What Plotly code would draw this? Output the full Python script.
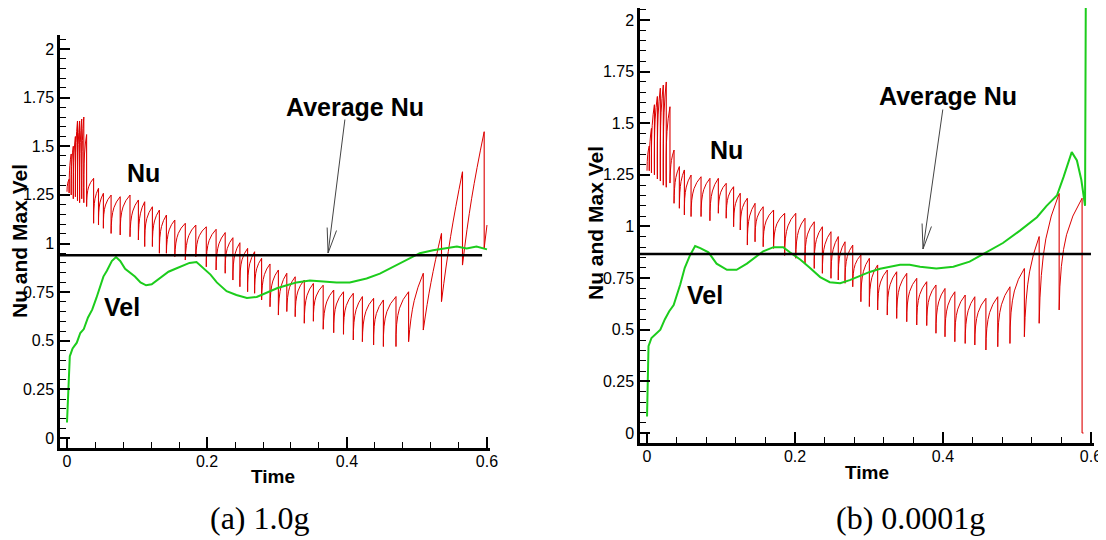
import plotly.graph_objects as go

# ---------------- data ----------------
# Panel (a) 1.0g : Nusselt number sawtooth (drop time, value before drop, value after drop, knee of rise)
a_nu_start = 1.266
a_drop_t = [0.003, 0.006, 0.009, 0.012, 0.015, 0.018, 0.021, 0.024, 0.028,
            0.038, 0.045, 0.052, 0.063, 0.076, 0.090, 0.102, 0.111, 0.122, 0.132,
            0.142, 0.154, 0.169, 0.184, 0.199, 0.213, 0.226, 0.237, 0.247, 0.258,
            0.268, 0.278, 0.290, 0.302, 0.314, 0.326, 0.339, 0.352, 0.366, 0.381,
            0.395, 0.409, 0.422, 0.438, 0.452, 0.470, 0.488, 0.509, 0.535, 0.565, 0.596]
a_peak = [1.33, 1.46, 1.50, 1.55, 1.63, 1.63, 1.64, 1.65, 1.56,
          1.335, 1.284, 1.258, 1.249, 1.241, 1.249, 1.224, 1.215, 1.189, 1.172,
          1.146, 1.121, 1.104, 1.095, 1.086, 1.073, 1.056, 1.030, 1.004, 0.975,
          0.958, 0.924, 0.895, 0.864, 0.847, 0.829, 0.812, 0.795, 0.786, 0.761,
          0.752, 0.744, 0.727, 0.718, 0.710, 0.727, 0.752, 0.847, 1.052, 1.369, 1.575]
a_trough = [1.26, 1.25, 1.23, 1.24, 1.22, 1.21, 1.23, 1.21, 1.19,
            1.104, 1.095, 1.078, 1.052, 1.044, 1.035, 1.018, 0.984, 0.984, 0.950,
            0.950, 0.932, 0.915, 0.932, 0.880, 0.864, 0.847, 0.812, 0.778, 0.752,
            0.744, 0.710, 0.675, 0.632, 0.650, 0.624, 0.590, 0.600, 0.559, 0.541,
            0.533, 0.504, 0.495, 0.478, 0.470, 0.470, 0.495, 0.555, 0.701, 0.889, 0.977]
a_knee_t = [0.001, 0.004, 0.007, 0.010, 0.013, 0.016, 0.019, 0.022, 0.025,
            0.031, 0.040, 0.047, 0.055, 0.067, 0.080, 0.094, 0.105, 0.114, 0.125,
            0.135, 0.146, 0.159, 0.174, 0.189, 0.203, 0.217, 0.229, 0.240, 0.250,
            0.261, 0.271, 0.282, 0.294, 0.306, 0.318, 0.330, 0.343, 0.356, 0.371,
            0.385, 0.399, 0.413, 0.427, 0.442, 0.457, 0.475, 0.496, 0.520, 0.548, 0.578]
a_knee_v = [1.31, 1.40, 1.43, 1.46, 1.52, 1.51, 1.52, 1.53, 1.46,
            1.292, 1.230, 1.209, 1.198, 1.184, 1.188, 1.167, 1.156, 1.128, 1.116,
            1.087, 1.070, 1.052, 1.041, 1.040, 1.015, 0.998, 0.975, 0.946, 0.916,
            0.896, 0.870, 0.840, 0.807, 0.782, 0.775, 0.756, 0.734, 0.730, 0.700,
            0.689, 0.681, 0.660, 0.651, 0.640, 0.650, 0.667, 0.706, 0.800, 1.035, 1.230]
a_nu_end_t = 0.600
a_nu_end_v = 1.095

# Panel (a): maximum velocity
a_vel_t = [0, 0.002, 0.004, 0.008, 0.014, 0.019, 0.024, 0.030, 0.036, 0.042, 0.047,
           0.052, 0.057, 0.064, 0.070, 0.076, 0.083, 0.090, 0.097, 0.105, 0.113,
           0.121, 0.128, 0.135, 0.145, 0.155, 0.165, 0.175, 0.185, 0.195, 0.205,
           0.214, 0.228, 0.242, 0.257, 0.271, 0.285, 0.300, 0.314, 0.328, 0.347,
           0.366, 0.385, 0.404, 0.428, 0.447, 0.466, 0.485, 0.504, 0.523, 0.542,
           0.557, 0.571, 0.585, 0.600]
a_vel_v = [0.08, 0.30, 0.42, 0.46, 0.49, 0.54, 0.56, 0.62, 0.66, 0.72, 0.78,
           0.83, 0.86, 0.91, 0.93, 0.91, 0.87, 0.85, 0.83, 0.80, 0.785,
           0.79, 0.81, 0.83, 0.855, 0.87, 0.885, 0.90, 0.905, 0.87, 0.84,
           0.80, 0.755, 0.735, 0.72, 0.725, 0.745, 0.77, 0.785, 0.80, 0.81,
           0.805, 0.80, 0.80, 0.82, 0.845, 0.88, 0.915, 0.95, 0.965, 0.975,
           0.985, 0.975, 0.985, 0.97]
a_avg_nu = 0.94
a_avg_t = [-0.01, 0.593]

# Panel (b) 0.0001g
b_nu_start = 1.27
b_drop_t = [0.003, 0.006, 0.010, 0.014, 0.018, 0.022, 0.026, 0.031,
            0.0365, 0.0437, 0.0505, 0.0595, 0.073, 0.085, 0.0964, 0.107, 0.117, 0.126,
            0.1356, 0.146, 0.157, 0.171, 0.186, 0.201, 0.2135, 0.226, 0.237, 0.2486,
            0.2585, 0.2676, 0.278, 0.289, 0.3005, 0.3117, 0.3247, 0.3374, 0.351, 0.3645,
            0.378, 0.3905, 0.4027, 0.416, 0.430, 0.443, 0.458, 0.474, 0.4905, 0.510,
            0.530, 0.557, 0.588]
b_peak = [1.39, 1.475, 1.59, 1.63, 1.67, 1.685, 1.70, 1.58,
          1.37, 1.29, 1.274, 1.249, 1.241, 1.233, 1.233, 1.209, 1.193, 1.161,
          1.137, 1.112, 1.096, 1.080, 1.064, 1.064, 1.040, 1.023, 0.999, 0.975,
          0.951, 0.926, 0.910, 0.862, 0.846, 0.814, 0.789, 0.781, 0.773, 0.749,
          0.733, 0.717, 0.700, 0.684, 0.668, 0.660, 0.652, 0.660, 0.708, 0.797,
          0.951, 1.160, 1.137]
b_trough = [1.27, 1.26, 1.25, 1.23, 1.22, 1.20, 1.19, 1.21,
            1.112, 1.088, 1.056, 1.048, 1.048, 1.028, 1.064, 1.040, 0.999, 0.983,
            0.910, 0.926, 0.902, 0.894, 0.860, 0.846, 0.822, 0.797, 0.773, 0.749,
            0.741, 0.725, 0.708, 0.636, 0.612, 0.596, 0.571, 0.555, 0.539, 0.523,
            0.520, 0.483, 0.466, 0.442, 0.434, 0.426, 0.402, 0.418, 0.434, 0.466,
            0.531, 0.596, 0.0]
b_knee_t = [0.001, 0.004, 0.007, 0.011, 0.015, 0.019, 0.023, 0.027,
            0.033, 0.039, 0.046, 0.053, 0.0635, 0.0766, 0.0884, 0.0996, 0.110, 0.1197,
            0.129, 0.1387, 0.149, 0.161, 0.1755, 0.1905, 0.205, 0.217, 0.229, 0.2405,
            0.2516, 0.2612, 0.2707, 0.2813, 0.2925, 0.3039, 0.3156, 0.3285, 0.3415, 0.355,
            0.3685, 0.3818, 0.3942, 0.4067, 0.420, 0.434, 0.4475, 0.463, 0.479, 0.4965,
            0.517, 0.539, 0.567]
b_knee_v = [1.35, 1.41, 1.49, 1.52, 1.54, 1.55, 1.55, 1.46,
            1.32, 1.237, 1.218, 1.191, 1.183, 1.178, 1.172, 1.166, 1.147, 1.112,
            1.091, 1.051, 1.045, 1.027, 1.013, 1.003, 0.982, 0.963, 0.938, 0.914,
            0.890, 0.871, 0.855, 0.816, 0.783, 0.753, 0.731, 0.718, 0.708, 0.686,
            0.670, 0.658, 0.635, 0.619, 0.600, 0.592, 0.584, 0.583, 0.621, 0.688,
            0.780, 0.940, 0.960]
b_nu_end_t = 0.590
b_nu_end_v = 0.0

b_vel_t = [0, 0.002, 0.006, 0.012, 0.018, 0.024, 0.030, 0.036, 0.041, 0.045, 0.051,
           0.058, 0.065, 0.072, 0.083, 0.094, 0.108, 0.121, 0.135, 0.146, 0.157,
           0.171, 0.184, 0.193, 0.207, 0.220, 0.234, 0.247, 0.261, 0.274, 0.288,
           0.301, 0.315, 0.328, 0.342, 0.355, 0.369, 0.391, 0.414, 0.436, 0.459,
           0.481, 0.504, 0.527, 0.540, 0.554, 0.563, 0.574, 0.581, 0.587, 0.592, 0.593]
b_vel_v = [0.08, 0.42, 0.46, 0.48, 0.50, 0.55, 0.59, 0.62, 0.67, 0.72, 0.80,
           0.86, 0.905, 0.895, 0.875, 0.82, 0.79, 0.79, 0.82, 0.85, 0.88,
           0.90, 0.90, 0.875, 0.84, 0.80, 0.755, 0.73, 0.725, 0.74, 0.76,
           0.78, 0.795, 0.805, 0.815, 0.815, 0.805, 0.797, 0.805, 0.83, 0.875,
           0.92, 0.98, 1.045, 1.10, 1.15, 1.24, 1.36, 1.32, 1.225, 1.10, 2.10]
b_avg_nu = 0.867
b_avg_t = [-0.0095, 0.600]

# Axis ticks and labels
x_tickvals = [0, 0.2, 0.4, 0.6]
x_ticktext = ["0", "0.2", "0.4", "0.6"]
y_tickvals = [0, 0.25, 0.5, 0.75, 1, 1.25, 1.5, 1.75, 2]
y_ticktext = ["0", "0.25", "0.5", "0.75", "1", "1.25", "1.5", "1.75", "2"]

RED = "#dc0000"
GREEN = "#1ccc1c"
FONT = "Liberation Sans, Arial, sans-serif"
SERIF = "Liberation Serif, Times New Roman, serif"


def nu_segments(start_v, drop_t, peak, trough, knee_t, knee_v, end_t, end_v):
    rx, ry, dx, dy = [], [], [], []
    prev_t, prev_v = 0.0, start_v
    for t, p, tr, kt, kv in zip(drop_t, peak, trough, knee_t, knee_v):
        rx += [prev_t, kt, t, None]
        ry += [prev_v, kv, p, None]
        dx += [t, t, None]
        dy += [p, tr, None]
        prev_t, prev_v = t, tr
    rx += [prev_t, end_t, None]
    ry += [prev_v, end_v, None]
    return rx, ry, dx, dy


fig = go.Figure()

panels = [
    dict(sx="x", sy="y", nu=(a_nu_start, a_drop_t, a_peak, a_trough, a_knee_t, a_knee_v, a_nu_end_t, a_nu_end_v),
         vt=a_vel_t, vv=a_vel_v, avg=a_avg_nu, avg_t=a_avg_t),
    dict(sx="x2", sy="y2", nu=(b_nu_start, b_drop_t, b_peak, b_trough, b_knee_t, b_knee_v, b_nu_end_t, b_nu_end_v),
         vt=b_vel_t, vv=b_vel_v, avg=b_avg_nu, avg_t=b_avg_t),
]

for p in panels:
    rx, ry, dx, dy = nu_segments(*p["nu"])
    fig.add_trace(go.Scatter(x=rx, y=ry, xaxis=p["sx"], yaxis=p["sy"], mode="lines",
                             line=dict(color=RED, width=1, shape="spline", smoothing=1.3),
                             connectgaps=False, hoverinfo="skip", showlegend=False))
    fig.add_trace(go.Scatter(x=dx, y=dy, xaxis=p["sx"], yaxis=p["sy"], mode="lines",
                             line=dict(color=RED, width=1.1), connectgaps=False,
                             hoverinfo="skip", showlegend=False))
    fig.add_trace(go.Scatter(x=p["vt"], y=p["vv"], xaxis=p["sx"], yaxis=p["sy"], mode="lines",
                             line=dict(color=GREEN, width=2), hoverinfo="skip", showlegend=False))
    fig.add_trace(go.Scatter(x=p["avg_t"], y=[p["avg"], p["avg"]], xaxis=p["sx"], yaxis=p["sy"],
                             mode="lines", line=dict(color="black", width=2.5),
                             hoverinfo="skip", showlegend=False))

# The page body has an 8px margin: figure is drawn from (8, 8) in the window.
OFF = 8
W, H = 1098, 532


def fx(px):
    return (px - OFF) / W


def fy(py):
    return min(1.0, 1 - (py - OFF) / H)


def xaxis_cfg(px0, px1, rng):
    return dict(domain=[fx(px0), fx(px1)], range=rng, tickmode="array",
                tickvals=x_tickvals, ticktext=x_ticktext, ticks="inside", ticklen=11,
                tickwidth=2, tickcolor="black", showline=True, linewidth=2.5,
                linecolor="black", showgrid=False, zeroline=False, ticklabelstandoff=-3,
                tickfont=dict(family=FONT, size=16, color="black"),
                minor=dict(tickmode="linear", tick0=0, dtick=0.04, ticks="inside",
                           ticklen=6, tickwidth=1, tickcolor="black", showgrid=False))


def yaxis_cfg(py_bottom, py_top, rng):
    return dict(domain=[fy(py_bottom), fy(py_top)], range=rng, tickmode="array",
                tickvals=y_tickvals, ticktext=y_ticktext, ticks="inside", ticklen=10,
                tickwidth=2, tickcolor="black", showline=True, linewidth=2.5,
                linecolor="black", showgrid=False, zeroline=False,
                tickfont=dict(family=FONT, size=16, color="black"),
                minor=dict(tickmode="linear", tick0=0, dtick=0.05, ticks="inside",
                           ticklen=6, tickwidth=1, tickcolor="black", showgrid=False))


fig.update_layout(
    width=W, height=H, margin=dict(l=0, r=0, t=0, b=0, autoexpand=False),
    paper_bgcolor="white", plot_bgcolor="white", showlegend=False,
    xaxis=dict(**xaxis_cfg(60, 490, [-0.01, 0.6043]), anchor="y"),
    yaxis=dict(**yaxis_cfg(448, 35, [-0.0514, 2.072]), anchor="x"),
    xaxis2=dict(**xaxis_cfg(640, 1094, [-0.0095, 0.6041]), anchor="y2"),
    yaxis2=dict(**yaxis_cfg(443, 8, [-0.0484, 2.058]), anchor="x2"),
)

ann = []
bold = dict(family=FONT, size=25, color="black")
# in-plot labels (data coords)
labels = [
    ("x", "y", 0.109, 1.36, "Nu"), ("x", "y", 0.079, 0.675, "Vel"), ("x", "y", 0.411, 1.70, "Average Nu"),
    ("x2", "y2", 0.108, 1.372, "Nu"), ("x2", "y2", 0.078, 0.67, "Vel"), ("x2", "y2", 0.407, 1.633, "Average Nu"),
]
for xr, yr, xv, yv, txt in labels:
    ann.append(dict(xref=xr, yref=yr, x=xv, y=yv, text="<b>%s</b>" % txt, showarrow=False,
                    font=bold, xanchor="center", yanchor="middle"))

# arrows: tip in data coords, tail/barbs as pixel offsets
arrows = [("x", "y", 0.373, 0.951, (17, -135)), ("x2", "y2", 0.373, 0.891, (20, -141))]
for xr, yr, xv, yv, tail in arrows:
    for off in [tail, (-1, -27), (9, -24)]:
        ann.append(dict(xref=xr, yref=yr, x=xv, y=yv, ax=off[0], ay=off[1], axref="pixel", ayref="pixel",
                        text="", showarrow=True, arrowhead=0, arrowwidth=1, arrowcolor="#444444",
                        standoff=0, startstandoff=0))

title_font = dict(family=FONT, size=21, color="black")
time_font = dict(family=FONT, size=19, color="black")
cap_font = dict(family=SERIF, size=32, color="black")
ann += [
    dict(xref="paper", yref="paper", x=fx(19), y=fy(241), text="<b>Nu and Max Vel</b>",
         textangle=-90, showarrow=False, font=title_font, xanchor="center", yanchor="middle"),
    dict(xref="paper", yref="paper", x=fx(595), y=fy(223), text="<b>Nu and Max Vel</b>",
         textangle=-90, showarrow=False, font=title_font, xanchor="center", yanchor="middle"),
    dict(xref="paper", yref="paper", x=fx(273), y=fy(476), text="<b>Time</b>",
         showarrow=False, font=time_font, xanchor="center", yanchor="middle"),
    dict(xref="paper", yref="paper", x=fx(867), y=fy(472), text="<b>Time</b>",
         showarrow=False, font=time_font, xanchor="center", yanchor="middle"),
    dict(xref="paper", yref="paper", x=fx(260), y=fy(518), text="(a) 1.0g",
         showarrow=False, font=cap_font, xanchor="center", yanchor="middle"),
    dict(xref="paper", yref="paper", x=fx(910), y=fy(518), text="(b) 0.0001g",
         showarrow=False, font=cap_font, xanchor="center", yanchor="middle"),
]
fig.update_layout(annotations=ann)

fig.write_html("out.html")
